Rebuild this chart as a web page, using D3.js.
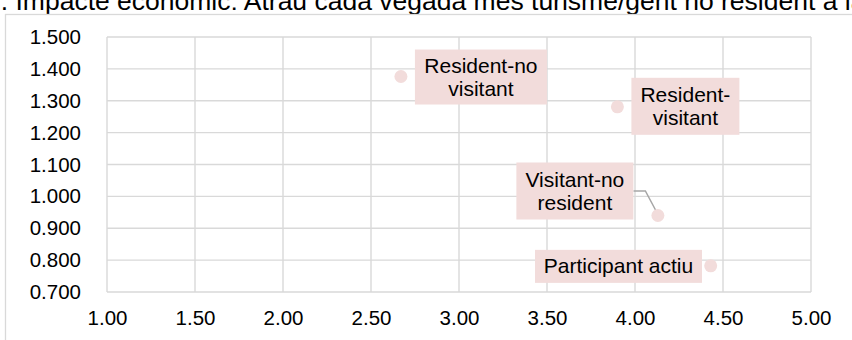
<!DOCTYPE html>
<html>
<head>
<meta charset="utf-8">
<script src="https://cdn.jsdelivr.net/npm/d3@7"></script>
<style>
  html, body { margin: 0; padding: 0; background: #fff; }
  svg { display: block; font-family: "Liberation Sans", Arial, sans-serif; }
</style>
</head>
<body>
<svg id="chart" width="852" height="340"></svg>
<script>
// Series: one bubble per group of respondents
const categories = ["Resident-no visitant", "Resident-visitant", "Visitant-no resident", "Participant actiu"];
const xValues = [2.67, 3.90, 4.13, 4.43];
const yValues = [1.376, 1.281, 0.940, 0.782];

// Axis ticks
const xTicks = [1.0, 1.5, 2.0, 2.5, 3.0, 3.5, 4.0, 4.5, 5.0];
const yTicks = [0.7, 0.8, 0.9, 1.0, 1.1, 1.2, 1.3, 1.4, 1.5];

const titleText = "7. Impacte econòmic: Atrau cada vegada més turisme/gent no resident a la ciutat";

// Label callouts: text lines, box offset from the point (px) and box size
const labelLines = [["Resident-no", "visitant"], ["Resident-", "visitant"], ["Visitant-no", "resident"], ["Participant actiu"]];
const labelBoxes = [
  { dx: 14, dy: -27, w: 132, h: 55, leader: false },
  { dx: 14, dy: -29, w: 108, h: 57, leader: false },
  { dx: -141.5, dy: -53, w: 117, h: 57, leader: true },
  { dx: -175.7, dy: -16, w: 167, h: 33, leader: false }
];

const svg = d3.select("#chart");
const margin = { left: 107, right: 41, top: 37, bottom: 48 };
const W = 852, H = 340;

const x = d3.scaleLinear().domain([1, 5]).range([margin.left, W - margin.right]);
const y = d3.scaleLinear().domain([0.7, 1.5]).range([H - margin.bottom, margin.top]);

const grid = "#d9d9d9";
const fill = "#f2dcdb";

// Title (runs past the top and right of the frame)
svg.append("text")
  .attr("x", -14).attr("y", 10)
  .attr("font-size", 26.5).attr("fill", "#000")
  .text(titleText);

// Chart frame
svg.append("rect")
  .attr("x", 5.5).attr("y", 14.5)
  .attr("width", 900).attr("height", 400)
  .attr("fill", "#fff").attr("stroke", grid).attr("stroke-width", 1.3);

// Gridlines
svg.append("g").selectAll("line").data(xTicks).join("line")
  .attr("x1", d => x(d)).attr("x2", d => x(d))
  .attr("y1", y(0.7)).attr("y2", y(1.5))
  .attr("stroke", grid).attr("stroke-width", 1.4);
svg.append("g").selectAll("line").data(yTicks).join("line")
  .attr("x1", x(1)).attr("x2", x(5))
  .attr("y1", d => y(d)).attr("y2", d => y(d))
  .attr("stroke", grid).attr("stroke-width", 1.4);

// Axes (tick labels only)
const xAxis = d3.axisBottom(x).tickValues(xTicks).tickFormat(d3.format(".2f")).tickSize(0).tickPadding(18);
const yAxis = d3.axisLeft(y).tickValues(yTicks).tickFormat(d3.format(".3f")).tickSize(0).tickPadding(26);

const gx = svg.append("g").attr("transform", `translate(0,${y(0.7)})`).call(xAxis);
const gy = svg.append("g").attr("transform", `translate(${x(1)},0)`).call(yAxis);
[gx, gy].forEach(g => {
  g.select(".domain").remove();
  g.selectAll("text").attr("font-size", 20.5).attr("fill", "#000")
    .attr("font-family", "'Liberation Sans', Arial, sans-serif");
});

// Data
const pts = categories.map((c, i) => ({
  name: c, x: xValues[i], y: yValues[i], lines: labelLines[i], box: labelBoxes[i]
}));

// Leader lines
pts.filter(d => d.box.leader).forEach(d => {
  const px = x(d.x), py = y(d.y);
  const bx = px + d.box.dx + d.box.w;
  const by = py + d.box.dy + d.box.h / 2;
  svg.append("path")
    .attr("d", `M${bx},${by} L${bx + 12},${by} L${px - 1},${py - 3}`)
    .attr("fill", "none").attr("stroke", "#a6a6a6").attr("stroke-width", 1.5);
});

// Markers
svg.append("g").selectAll("circle").data(pts).join("circle")
  .attr("cx", d => x(d.x)).attr("cy", d => y(d.y)).attr("r", 6.5)
  .attr("fill", fill);

// Label boxes
const lab = svg.append("g").selectAll("g").data(pts).join("g")
  .attr("transform", d => `translate(${x(d.x) + d.box.dx},${y(d.y) + d.box.dy})`);
lab.append("rect")
  .attr("width", d => d.box.w).attr("height", d => d.box.h)
  .attr("fill", fill);
lab.each(function(d) {
  const g = d3.select(this);
  const n = d.lines.length;
  d.lines.forEach((t, i) => {
    g.append("text")
      .attr("x", d.box.w / 2)
      .attr("y", d.box.h / 2 + (i - (n - 1) / 2) * 23 + 7)
      .attr("text-anchor", "middle")
      .attr("font-size", 21).attr("fill", "#000")
      .text(t);
  });
});
</script>
</body>
</html>
